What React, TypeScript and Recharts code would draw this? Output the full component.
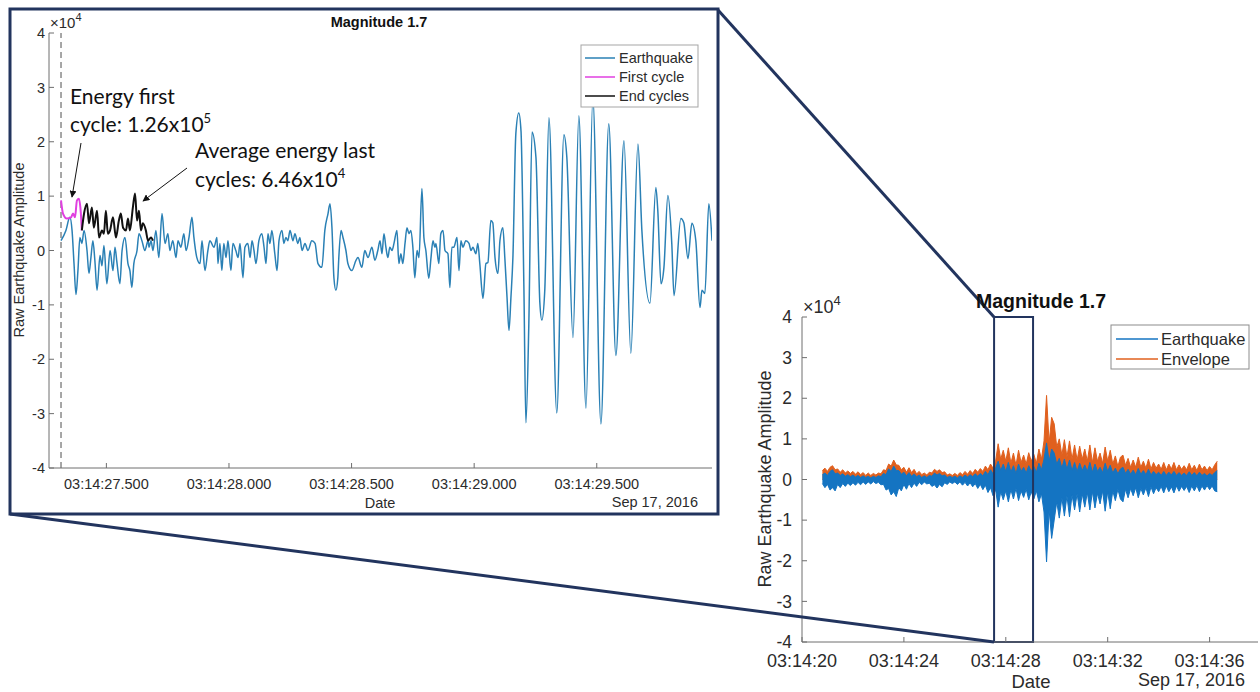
import React from "react";
import {
  LineChart,
  Line,
  ComposedChart,
  Area,
  XAxis,
  YAxis,
  ReferenceLine,
  ReferenceArea,
} from "recharts";

// shared amplitude axis (x1e4)
const ampTicks = [-4, -3, -2, -1, 0, 1, 2, 3, 4];

// ---- zoomed view: time in ms after 03:14:27.000, amplitude in 1e4 ----
const zoomTicks = [500, 1000, 1500, 2000, 2500];
const zoomDomain = [266, 2970];
const pickTime = 315; // dashed marker

const quakeTrace = [
  [315, 0.18], [335, 0.37], [351, 0.61], [360, 0.37], [368, -0.24], [376, -0.81], [384, -0.37],
  [392, 0.24], [400, 0.13], [409, 0.37], [421, 0], [429, -0.42], [437, -0.13], [445, 0.18],
  [453, -0.18], [462, -0.73], [474, -0.09], [482, -0.28], [490, 0.09], [502, -0.61], [515, 0],
  [527, -0.37], [535, 0.06], [543, -0.22], [555, -0.61], [564, 0], [576, 0.24], [588, -0.24],
  [596, -0.37], [604, -0.68], [612, -0.24], [625, 0], [633, 0.31], [645, 0.18], [657, 0],
  [670, 0.18], [674, 0.06], [682, 0.18], [690, 0], [702, 0.37], [714, -0.13], [727, 0.68],
  [739, 0.13], [751, 0.31], [759, 0], [771, 0.18], [784, -0.13], [792, 0.18], [804, 0.06],
  [816, 0.31], [825, 0], [837, 0.24], [849, 0.61], [857, 0.24], [869, -0.13], [882, -0.24],
  [890, 0.18], [902, -0.37], [914, 0], [922, 0.18], [939, 0.06], [951, 0.24], [955, -0.24],
  [963, 0.13], [971, -0.37], [979, 0.13], [988, -0.13], [996, 0.18], [1008, -0.37], [1016, 0.13],
  [1028, 0], [1037, -0.13], [1045, 0.13], [1057, -0.5], [1065, 0.06], [1077, 0.13], [1086, -0.13],
  [1094, 0.18], [1102, 0], [1110, -0.24], [1122, 0.18], [1134, 0.31], [1143, 0.06], [1151, -0.24],
  [1159, 0.31], [1167, 0.13], [1175, 0.37], [1187, -0.06], [1196, -0.37], [1204, 0.18], [1216, 0.37],
  [1224, 0.13], [1232, 0.24], [1240, 0.18], [1249, 0.37], [1261, 0.18], [1269, 0.31], [1281, 0.13],
  [1289, 0.24], [1298, 0], [1310, 0.13], [1322, 0], [1338, 0.18], [1351, 0.13], [1363, -0.24],
  [1379, -0.31], [1391, 0.37], [1404, 0.68], [1412, 0.86], [1420, 0.42], [1428, -0.5], [1436, -0.73],
  [1444, -0.5], [1448, -0.13], [1457, 0.37], [1465, 0.24], [1477, 0], [1485, -0.24], [1501, -0.37],
  [1518, -0.18], [1526, -0.13], [1542, -0.31], [1554, 0], [1567, -0.13], [1583, 0.06], [1595, -0.18],
  [1607, 0], [1616, 0.18], [1624, -0.06], [1632, 0.31], [1640, 0.06], [1648, -0.13], [1656, 0.06],
  [1665, 0], [1673, 0.13], [1685, 0.37], [1693, -0.24], [1701, -0.06], [1709, -0.24], [1718, 0.13],
  [1726, 0.42], [1734, 0.31], [1742, 0.37], [1750, 0.06], [1758, -0.5], [1767, 0], [1775, -0.13],
  [1787, 1.14], [1795, 0.24], [1803, 0], [1815, -0.51], [1824, -0.13], [1832, 0.18], [1840, 0.06],
  [1844, 0.13], [1856, -0.24], [1864, 0.31], [1873, 0.37], [1881, 0], [1893, -0.06], [1901, -0.68],
  [1909, 0.06], [1917, 0.06], [1930, 0.24], [1938, -0.37], [1946, 0.18], [1954, 0.06], [1966, 0.18],
  [1979, 0.13], [1987, 0], [1995, 0.06], [2007, -0.06], [2015, 0.13], [2023, -0.24], [2036, -0.88],
  [2048, -0.24], [2056, -0.22], [2068, 0.55], [2076, 0.51], [2085, -0.13], [2097, -0.42], [2105, 0.18],
  [2117, 0.42], [2125, -0.13], [2134, -0.86], [2142, -1.47], [2150, -0.86], [2158, -0.13], [2170, 2.15],
  [2182, 2.53], [2191, 2.2], [2203, -0.73], [2211, -3.17], [2223, -1.34], [2236, 2.18], [2252, 1.71],
  [2268, -0.97], [2276, -1.28], [2288, -0.73], [2305, 2.44], [2337, -2.99], [2366, 2.13], [2378, 1.71],
  [2403, -1.6], [2427, 2.48], [2456, -2.9], [2484, 2.8], [2517, -3.19], [2549, 2.33], [2578, -1.93],
  [2611, 2.02], [2639, -1.89], [2668, 1.96], [2684, 0.37], [2717, -0.97], [2741, 1.16], [2749, 0.73],
  [2762, -0.61], [2774, -0.31], [2790, 1.01], [2806, 0.13], [2815, -0.83], [2843, 0.59], [2855, 0.51],
  [2872, -0.15], [2888, 0.5], [2904, 0.18], [2921, -1.05], [2929, -0.73], [2941, -0.79], [2957, 0.86],
  [2970, 0.18],
];

const firstCycle = [
  [315, 0.92], [323, 0.68], [339, 0.59], [356, 0.61], [364, 0.68], [372, 0.61], [380, 0.92],
  [388, 0.95], [396, 0.68], [400, 0.37],
];

const endCycles = [
  [400, 0.37], [409, 0.68], [421, 0.86], [429, 0.5], [441, 0.79], [449, 0.42], [462, 0.73],
  [470, 0.24], [482, 0.37], [490, 0.31], [498, 0.73], [506, 0.31], [515, 0.37], [527, 0.61],
  [539, 0.24], [551, 0.55], [559, 0.68], [568, 0.42], [580, 0.37], [588, 0.59], [596, 0.37],
  [608, 0.79], [617, 1.05], [625, 0.55], [633, 0.73], [641, 0.37], [649, 0.5], [661, 0.37],
  [670, 0.18], [682, 0.24], [690, 0.18],
];

// ---- full record: seconds after 03:14:00, sampled every 0.1 s from 20.8 s ----
const fullTicks = [20, 24, 28, 32, 36];
const fullDomain = [20, 37.9];
const recordStart = 20.8;
const recordStep = 0.1;
const zoomWindow = [27.54, 29.07];

const envelopeTop = [
  0.22, 0.28,
  0.2, 0.3, 0.34, 0.24, 0.26, 0.18, 0.24, 0.16, 0.21, 0.15,
  0.2, 0.13, 0.19, 0.12, 0.17, 0.1, 0.16, 0.1, 0.15, 0.11,
  0.16, 0.14, 0.24, 0.22, 0.38, 0.33, 0.48, 0.36, 0.35, 0.24,
  0.3, 0.18, 0.29, 0.17, 0.25, 0.14, 0.2, 0.12, 0.16, 0.11,
  0.18, 0.16, 0.25, 0.2, 0.24, 0.17, 0.19, 0.11, 0.14, 0.1,
  0.15, 0.1, 0.17, 0.12, 0.2, 0.13, 0.22, 0.15, 0.25, 0.18,
  0.27, 0.2, 0.33, 0.24, 0.38, 0.28, 0.45, 0.88, 0.5, 0.72,
  0.45, 0.78, 0.4, 0.65, 0.35, 0.72, 0.42, 0.6, 0.38, 0.66,
  0.45, 0.62, 0.4, 0.75, 0.5, 0.95, 2.07, 0.9, 1.53, 1.37,
  0.8, 1.0, 0.6, 0.98, 0.55, 0.95, 0.5, 0.85, 0.48, 0.82,
  0.5, 0.75, 0.45, 0.85, 0.42, 0.78, 0.45, 0.65, 0.4, 0.8,
  0.45, 0.72, 0.38, 0.58, 0.32, 0.55, 0.6, 0.35, 0.52, 0.3,
  0.48, 0.3, 0.55, 0.3, 0.45, 0.28, 0.5, 0.26, 0.42, 0.28,
  0.38, 0.25, 0.42, 0.24, 0.38, 0.26, 0.42, 0.24, 0.36, 0.25,
  0.34, 0.24, 0.4, 0.24, 0.35, 0.22, 0.38, 0.24, 0.33, 0.22,
  0.32, 0.24, 0.36, 0.45,
];

const quakeHigh = [
  0.12, 0.16,
  0.1, 0.2, 0.24, 0.14, 0.16, 0.1, 0.14, 0.08, 0.12, 0.07,
  0.11, 0.06, 0.1, 0.05, 0.09, 0.05, 0.08, 0.04, 0.08, 0.05,
  0.09, 0.07, 0.15, 0.12, 0.26, 0.2, 0.33, 0.22, 0.22, 0.13,
  0.18, 0.09, 0.17, 0.08, 0.14, 0.07, 0.11, 0.05, 0.09, 0.05,
  0.1, 0.08, 0.16, 0.11, 0.15, 0.09, 0.11, 0.05, 0.08, 0.05,
  0.08, 0.04, 0.09, 0.05, 0.11, 0.06, 0.12, 0.07, 0.14, 0.08,
  0.15, 0.09, 0.2, 0.12, 0.24, 0.14, 0.28, 0.45, 0.22, 0.38,
  0.2, 0.42, 0.18, 0.34, 0.15, 0.38, 0.2, 0.3, 0.16, 0.34,
  0.2, 0.32, 0.18, 0.4, 0.24, 0.5, 0.9, 0.45, 0.75, 0.65,
  0.38, 0.52, 0.28, 0.5, 0.25, 0.48, 0.22, 0.42, 0.2, 0.4,
  0.22, 0.36, 0.2, 0.42, 0.18, 0.38, 0.2, 0.3, 0.17, 0.4,
  0.2, 0.35, 0.16, 0.28, 0.14, 0.26, 0.3, 0.15, 0.25, 0.13,
  0.23, 0.12, 0.27, 0.13, 0.22, 0.12, 0.25, 0.11, 0.2, 0.12,
  0.18, 0.1, 0.2, 0.1, 0.18, 0.11, 0.2, 0.1, 0.17, 0.1,
  0.16, 0.1, 0.19, 0.1, 0.17, 0.09, 0.18, 0.1, 0.15, 0.09,
  0.15, 0.1, 0.17, 0.22,
];

const quakeLow = [
  -0.1, -0.2,
  -0.12, -0.26, -0.2, -0.28, -0.12, -0.2, -0.1, -0.17, -0.09, -0.15,
  -0.08, -0.14, -0.07, -0.13, -0.06, -0.12, -0.06, -0.11, -0.05, -0.1,
  -0.07, -0.13, -0.12, -0.26, -0.22, -0.38, -0.3, -0.42, -0.2, -0.28,
  -0.12, -0.24, -0.1, -0.2, -0.09, -0.17, -0.07, -0.13, -0.06, -0.11,
  -0.09, -0.17, -0.13, -0.21, -0.12, -0.18, -0.08, -0.12, -0.06, -0.1,
  -0.06, -0.12, -0.06, -0.14, -0.07, -0.16, -0.08, -0.18, -0.1, -0.22,
  -0.12, -0.25, -0.14, -0.32, -0.2, -0.4, -0.25, -0.68, -0.3, -0.5,
  -0.28, -0.55, -0.25, -0.48, -0.22, -0.52, -0.28, -0.44, -0.24, -0.5,
  -0.3, -0.48, -0.28, -0.55, -0.35, -0.8, -2.03, -0.75, -1.45, -1.0,
  -0.55, -0.95, -0.45, -0.9, -0.4, -0.92, -0.38, -0.75, -0.35, -0.8,
  -0.35, -0.68, -0.32, -0.75, -0.3, -0.7, -0.34, -0.6, -0.28, -0.78,
  -0.3, -0.72, -0.28, -0.52, -0.24, -0.48, -0.55, -0.24, -0.45, -0.22,
  -0.4, -0.2, -0.45, -0.22, -0.38, -0.2, -0.42, -0.18, -0.35, -0.2,
  -0.3, -0.17, -0.33, -0.16, -0.3, -0.18, -0.33, -0.16, -0.29, -0.17,
  -0.27, -0.17, -0.32, -0.16, -0.28, -0.15, -0.3, -0.16, -0.26, -0.15,
  -0.25, -0.16, -0.28, -0.3,
];

const FONT = "'Liberation Sans', Arial, Helvetica, sans-serif";
const NOTE_FONT = "Lato, 'Open Sans', sans-serif";
const AXIS = "#6e6e6e";
const TEXT = "#2b2b2b";
const NAVY = "#22345e";
const ZOOM_BLUE = "#2a80b5";
const PINK = "#e040e0";
const QUAKE_BLUE = "#1474c2";
const ENV_ORANGE = "#e0601e";

const toPoints = (pairs: number[][]) => pairs.map(([t, v]) => ({ t, v }));

const fmtZoom = (ms: number) => `03:14:${(27 + ms / 1000).toFixed(3)}`;
const fmtFull = (s: number) => `03:14:${String(s).padStart(2, "0")}`;

const fullRows = envelopeTop.map((e, i) => ({
  t: +(recordStart + i * recordStep).toFixed(1),
  env: [0, e],
  quake: [quakeLow[i], quakeHigh[i]],
}));

const ZoomChart = () => (
  <div style={{ position: "absolute", left: 0, top: 0 }}>
    <LineChart width={720} height={516} margin={{ top: 33, right: 8, bottom: 0, left: 0 }}>
      <XAxis
        xAxisId="b"
        type="number"
        dataKey="t"
        domain={zoomDomain}
        ticks={zoomTicks}
        interval={0}
        allowDataOverflow
        tickFormatter={fmtZoom}
        height={48}
        tickSize={-5}
        tickMargin={16}
        stroke={AXIS}
        tick={{ fill: TEXT, fontSize: 14.5, fontFamily: FONT }}
      />
      <XAxis
        xAxisId="top"
        orientation="top"
        type="number"
        dataKey="t"
        domain={zoomDomain}
        ticks={zoomTicks}
        allowDataOverflow
        height={0}
        tickSize={-5}
        tick={false}
        stroke={AXIS}
      />
      <YAxis
        yAxisId="l"
        type="number"
        domain={[-4, 4]}
        ticks={ampTicks}
        interval={0}
        width={49}
        tickSize={-5}
        tickMargin={9}
        stroke={AXIS}
        tick={{ fill: TEXT, fontSize: 14.5, fontFamily: FONT }}
      />
      <YAxis
        yAxisId="r"
        orientation="right"
        type="number"
        domain={[-4, 4]}
        ticks={ampTicks}
        width={0}
        tickSize={-5}
        tick={false}
        stroke={AXIS}
      />
      <ReferenceLine xAxisId="b" yAxisId="l" x={pickTime} stroke="#8a8a8a" strokeWidth={1.5} strokeDasharray="6 4" />
      <Line xAxisId="b" yAxisId="l" data={toPoints(quakeTrace)} dataKey="v" type="monotone" stroke={ZOOM_BLUE} strokeWidth={1.5} dot={false} isAnimationActive={false} />
      <Line xAxisId="b" yAxisId="l" data={toPoints(firstCycle)} dataKey="v" type="monotone" stroke={PINK} strokeWidth={2} dot={false} isAnimationActive={false} />
      <Line xAxisId="b" yAxisId="l" data={toPoints(endCycles)} dataKey="v" type="monotone" stroke="#111" strokeWidth={2} dot={false} isAnimationActive={false} />
    </LineChart>
  </div>
);

const FullChart = () => (
  <div style={{ position: "absolute", left: 740, top: 280 }}>
    <ComposedChart width={520} height={412} data={fullRows} margin={{ top: 37, right: 2, bottom: 0, left: 0 }}>
      <XAxis
        xAxisId="b"
        type="number"
        dataKey="t"
        domain={fullDomain}
        ticks={fullTicks}
        interval={0}
        allowDataOverflow
        tickFormatter={fmtFull}
        height={50}
        tickSize={-5}
        tickMargin={17}
        stroke={AXIS}
        tick={{ fill: TEXT, fontSize: 18, fontFamily: FONT }}
      />
      <XAxis
        xAxisId="top"
        orientation="top"
        type="number"
        dataKey="t"
        domain={fullDomain}
        ticks={fullTicks}
        allowDataOverflow
        height={0}
        tickSize={-5}
        tick={false}
        stroke={AXIS}
      />
      <YAxis
        yAxisId="l"
        type="number"
        domain={[-4, 4]}
        ticks={ampTicks}
        interval={0}
        width={62}
        tickSize={-5}
        tickMargin={15}
        stroke={AXIS}
        tick={{ fill: TEXT, fontSize: 17.5, fontFamily: FONT }}
      />
      <YAxis
        yAxisId="r"
        orientation="right"
        type="number"
        domain={[-4, 4]}
        ticks={ampTicks}
        width={0}
        tickSize={-5}
        tick={false}
        stroke={AXIS}
      />
      <Area xAxisId="b" yAxisId="l" dataKey="env" type="linear" stroke={ENV_ORANGE} strokeWidth={1} fill={ENV_ORANGE} fillOpacity={1} isAnimationActive={false} />
      <Area xAxisId="b" yAxisId="l" dataKey="quake" type="linear" stroke={QUAKE_BLUE} strokeWidth={1} fill={QUAKE_BLUE} fillOpacity={1} isAnimationActive={false} />
      <ReferenceArea
        xAxisId="b"
        yAxisId="l"
        x1={zoomWindow[0]}
        x2={zoomWindow[1]}
        y1={-4}
        y2={4}
        fill="none"
        fillOpacity={0}
        stroke={NAVY}
        strokeWidth={2}
        ifOverflow="visible"
      />
    </ComposedChart>
  </div>
);

const Overlay = () => (
  <svg width={1260} height={692} style={{ position: "absolute", left: 0, top: 0, pointerEvents: "none" }}>
    <defs>
      <marker id="head" viewBox="0 0 10 10" refX="9" refY="5" markerWidth="7" markerHeight="7" orient="auto-start-reverse">
        <path d="M0,0 L10,5 L0,10 z" fill="#111" />
      </marker>
    </defs>

    {/* inset frame and zoom connectors */}
    <rect x={10} y={9} width={708} height={505} fill="none" stroke={NAVY} strokeWidth={3} />
    <line x1={718} y1={10} x2={994} y2={317} stroke={NAVY} strokeWidth={3} />
    <line x1={10} y1={514} x2={994} y2={642} stroke={NAVY} strokeWidth={3} />

    {/* zoomed chart texts */}
    <text x={379} y={27} textAnchor="middle" fontFamily={FONT} fontSize={14.5} fontWeight="bold" fill="#111">
      Magnitude 1.7
    </text>
    <text x={50} y={28} fontFamily={FONT} fontSize={15} fill={TEXT}>
      ×10<tspan dy={-7} fontSize={11}>4</tspan>
    </text>
    <text x={19} y={250} transform="rotate(-90 19 250)" textAnchor="middle" dominantBaseline="central" fontFamily={FONT} fontSize={14.5} fill={TEXT}>
      Raw Earthquake Amplitude
    </text>
    <text x={380} y={508} textAnchor="middle" fontFamily={FONT} fontSize={14.5} fill={TEXT}>
      Date
    </text>
    <text x={698} y={507} textAnchor="end" fontFamily={FONT} fontSize={14.5} fill={TEXT}>
      Sep 17, 2016
    </text>

    <rect x={581} y={45} width={117} height={62} fill="#fff" stroke="#a5a5a5" strokeWidth={1} />
    {[
      { label: "Earthquake", color: ZOOM_BLUE, y: 58 },
      { label: "First cycle", color: PINK, y: 77 },
      { label: "End cycles", color: "#111", y: 96 },
    ].map((e) => (
      <g key={e.label}>
        <line x1={585} x2={615} y1={e.y} y2={e.y} stroke={e.color} strokeWidth={1.5} />
        <text x={619} y={e.y} dominantBaseline="central" fontFamily={FONT} fontSize={14.5} fill={TEXT}>
          {e.label}
        </text>
      </g>
    ))}

    <text x={70} y={104} fontFamily={NOTE_FONT} fontSize={21} fill="#111">Energy first</text>
    <text x={70} y={132} fontFamily={NOTE_FONT} fontSize={21} fill="#111">
      cycle: 1.26x10<tspan dy={-9} fontSize={13}>5</tspan>
    </text>
    <text x={195} y={158} fontFamily={NOTE_FONT} fontSize={21} fill="#111">Average energy last</text>
    <text x={195} y={187} fontFamily={NOTE_FONT} fontSize={21} fill="#111">
      cycles: 6.46x10<tspan dy={-9} fontSize={13}>4</tspan>
    </text>
    <line x1={81} y1={143} x2={72} y2={197} stroke="#111" strokeWidth={1} markerEnd="url(#head)" />
    <line x1={187} y1={168} x2={143} y2={201} stroke="#111" strokeWidth={1} markerEnd="url(#head)" />

    {/* full chart texts */}
    <text x={1041} y={308} textAnchor="middle" fontFamily={FONT} fontSize={19.5} fontWeight="bold" fill="#111">
      Magnitude 1.7
    </text>
    <text x={803} y={313} fontFamily={FONT} fontSize={18} fill={TEXT}>
      ×10<tspan dy={-8} fontSize={13}>4</tspan>
    </text>
    <text x={765} y={479} transform="rotate(-90 765 479)" textAnchor="middle" dominantBaseline="central" fontFamily={FONT} fontSize={18} fill={TEXT}>
      Raw Earthquake Amplitude
    </text>
    <text x={1031} y={688} textAnchor="middle" fontFamily={FONT} fontSize={18.5} fill={TEXT}>
      Date
    </text>
    <text x={1245} y={686} textAnchor="end" fontFamily={FONT} fontSize={18} fill={TEXT}>
      Sep 17, 2016
    </text>

    <rect x={1111} y={325} width={138} height={44} fill="#fff" stroke="#8c8c8c" strokeWidth={1} />
    {[
      { label: "Earthquake", color: QUAKE_BLUE, y: 339 },
      { label: "Envelope", color: ENV_ORANGE, y: 359 },
    ].map((e) => (
      <g key={e.label}>
        <line x1={1116} x2={1158} y1={e.y} y2={e.y} stroke={e.color} strokeWidth={1.5} />
        <text x={1161} y={e.y} dominantBaseline="central" fontFamily={FONT} fontSize={16.5} fill={TEXT}>
          {e.label}
        </text>
      </g>
    ))}
  </svg>
);

export default function App() {
  return (
    <div style={{ position: "absolute", left: 0, top: 0, width: 1260, height: 692, background: "#fff", overflow: "hidden" }}>
      <ZoomChart />
      <FullChart />
      <Overlay />
    </div>
  );
}
